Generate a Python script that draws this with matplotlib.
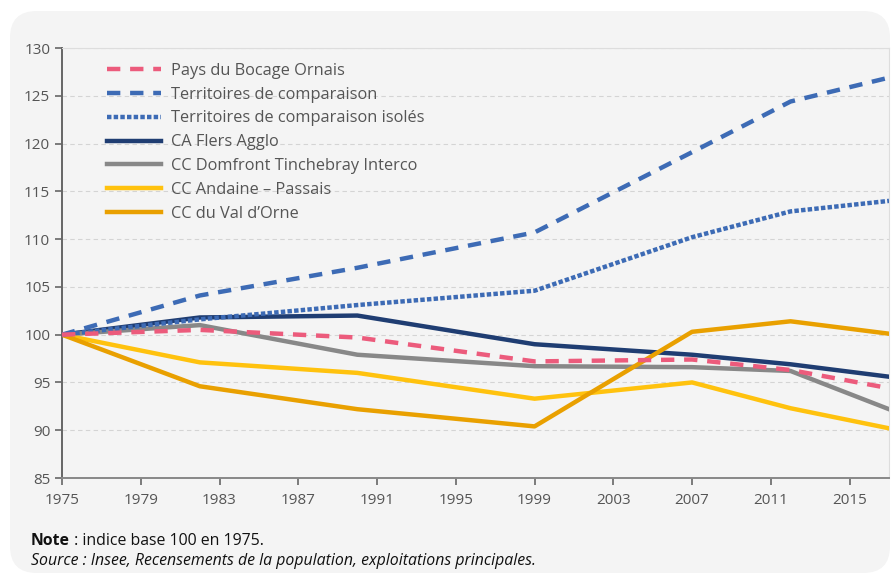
import matplotlib.pyplot as plt
from matplotlib.patches import FancyBboxPatch

plt.rcParams['font.family'] = ['Open Sans', 'DejaVu Sans']

years = [1975, 1982, 1990, 1999, 2007, 2012, 2017]

pays_bocage = [100, 100.5, 99.7, 97.2, 97.4, 96.3, 94.4]
territoires = [100, 104.1, 107.0, 110.7, 119.1, 124.4, 126.9]
territoires_isoles = [100, 101.6, 103.1, 104.6, 110.2, 112.9, 114.0]
ca_flers = [100, 101.8, 102.0, 99.0, 97.9, 96.9, 95.6]
cc_domfront = [100, 101.0, 97.9, 96.7, 96.6, 96.2, 92.2]
cc_andaine = [100, 97.1, 96.0, 93.3, 95.0, 92.3, 90.2]
cc_val_orne = [100, 94.6, 92.2, 90.4, 100.3, 101.4, 100.1]

x_ticks = [1975, 1979, 1983, 1987, 1991, 1995, 1999, 2003, 2007, 2011, 2015]
y_ticks = [85, 90, 95, 100, 105, 110, 115, 120, 125, 130]

fig = plt.figure(figsize=(8.91, 5.81), dpi=100)
fig.patch.set_facecolor('white')

# rounded grey panel behind everything
W, H = 891, 581
panel = FancyBboxPatch((10 / W, 8 / H), 880 / W, 562 / H,
                       boxstyle="round,pad=0,rounding_size=0.03",
                       transform=fig.transFigure, facecolor='#f4f4f4',
                       edgecolor='none', zorder=-10, mutation_aspect=W / H)
fig.patches.append(panel)

ax = fig.add_axes([62 / W, 1 - 478 / H, 827 / W, 430 / H])
ax.set_facecolor('#f4f4f4')

lw = 3.2
ax.plot(years, pays_bocage, color='#ec5b7c', lw=lw, dashes=(3, 2.2),
        label='Pays du Bocage Ornais', zorder=5)
ax.plot(years, territoires, color='#3d6bb5', lw=lw, dashes=(3, 2.2),
        label='Territoires de comparaison', zorder=4)
ax.plot(years, territoires_isoles, color='#3d6bb5', lw=lw, dashes=(1, 0.5),
        label='Territoires de comparaison isolés', zorder=4)
ax.plot(years, ca_flers, color='#1f3d72', lw=lw, label='CA Flers Agglo', zorder=3)
ax.plot(years, cc_domfront, color='#888888', lw=lw,
        label='CC Domfront Tinchebray Interco', zorder=3)
ax.plot(years, cc_andaine, color='#ffc20e', lw=lw,
        label='CC Andaine – Passais', zorder=3)
ax.plot(years, cc_val_orne, color='#e9a000', lw=lw,
        label='CC du Val d’Orne', zorder=3)

ax.set_xlim(1975, 2017)
ax.set_ylim(85, 130)
ax.set_xticks(x_ticks)
ax.set_yticks(y_ticks)
ax.tick_params(axis='both', colors='#666666', labelcolor='#555555',
               labelsize=11, length=5, width=1.2)
ax.tick_params(axis='x', pad=6)
ax.grid(axis='y', color='#d4d4d4', linestyle=(0, (4, 3)), lw=0.8)
ax.set_axisbelow(True)

for s in ['top', 'right']:
    ax.spines[s].set_color('#dddddd')
    ax.spines[s].set_linewidth(0.8)
ax.spines['left'].set_color('#666666')
ax.spines['bottom'].set_color('#888888')
ax.spines['left'].set_linewidth(1.4)
ax.spines['bottom'].set_linewidth(1.4)

leg = ax.legend(loc='upper left', bbox_to_anchor=(0.037, 1.0), frameon=False,
                fontsize=11.8, handlelength=3.3, handletextpad=0.6,
                labelspacing=0.48)
for t in leg.get_texts():
    t.set_color('#555555')

note = fig.text(31 / W, 1 - 541 / H, 'Note', fontsize=11.4, color='#111111',
                va='center', fontweight='bold')
fig.canvas.draw()
bb = note.get_window_extent()
fig.text(bb.x1 / W, 1 - 541 / H, ' : indice base 100 en 1975.',
         fontsize=11.4, color='#111111', va='center')
fig.text(31 / W, 1 - 561 / H,
         'Source : Insee, Recensements de la population, exploitations principales.',
         fontsize=11.4, color='#111111', va='center', style='italic')

fig.savefig('out.png', dpi=100, facecolor='white')
